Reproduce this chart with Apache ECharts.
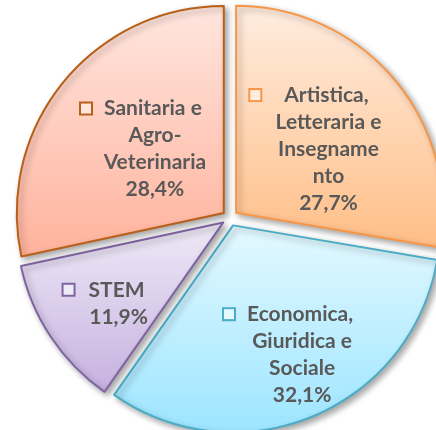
<!DOCTYPE html>
<html>
<head>
<meta charset="utf-8">
<script src="https://cdn.jsdelivr.net/npm/echarts@6/dist/echarts.min.js"></script>
<style>
  html, body { margin: 0; padding: 0; background: #fff; }
  #main { width: 436px; height: 430px; }
</style>
</head>
<body>
<div id="main"></div>
<script>
// Areas, clockwise from 12 o'clock
const categories = [
  "Artistica, Letteraria e Insegnamento",
  "Economica, Giuridica e Sociale",
  "STEM",
  "Sanitaria e Agro-Veterinaria",
];
// label text as wrapped in the picture
const labelLines = [
  ["Artistica,", "Letteraria e", "Insegname", "nto"],
  ["Economica,", "Giuridica e", "Sociale"],
  ["STEM"],
  ["Sanitaria e", "Agro-", "Veterinaria"],
];
const shares = [27.7, 32.1, 11.9, 28.4];

// styles
const borderColors = ["#F79646", "#4BACC6", "#8064A2", "#B8601A"];
const topColors = ["#FFEDE0", "#E4F9FF", "#EFEAF7", "#FFE6DF"];
const bottomColors = ["#FFBE86", "#9CE5FF", "#C6B1E0", "#FFB29C"];
const keyGaps = [24, 13, 15, 13];
const labelShift = [[11, 5], [28, 31], [-16, 22], [14, 3]];

const chart = echarts.init(document.getElementById("main"));

const rich = {};
categories.forEach((c, i) => {
  rich["sq" + i] = {
    width: 10, height: 10,
    borderColor: borderColors[i], borderWidth: 2,
    backgroundColor: topColors[i],
    verticalAlign: "middle",
  };
  rich["g" + i] = { width: keyGaps[i], height: 10 };
  rich["h" + i] = { width: keyGaps[i] + 14, height: 10 };
});

const pctText = (v) => v.toFixed(1).replace(".", ",") + "%";

chart.setOption({
  animation: false,
  series: [
    {
      type: "pie",
      center: [230, 218],
      radius: 207,
      startAngle: 90,
      clockwise: true,
      selectedMode: "multiple",
      selectedOffset: 8,
      emphasis: { disabled: true },
      itemStyle: {
        borderWidth: 2,
        shadowBlur: 6,
        shadowOffsetX: 3,
        shadowOffsetY: 3,
        shadowColor: "rgba(0,0,0,0.35)",
      },
      select: { itemStyle: { borderWidth: 2 } },
      label: {
        show: true,
        position: "inside",
        fontFamily: "Lato",
        fontWeight: "bold",
        fontSize: 21,
        lineHeight: 27,
        color: "#595959",
        align: "center",
        formatter: function (p) {
          const i = p.dataIndex;
          const lines = labelLines[i].slice();
          lines[0] = "{sq" + i + "|}{g" + i + "|}" + lines[0] + "{h" + i + "|}";
          lines.push(pctText(shares[i]));
          return lines.join("\n");
        },
        rich: rich,
      },
      labelLine: { show: false },
      labelLayout: function (p) {
        const s = labelShift[p.dataIndex];
        return { dx: s[0], dy: s[1] };
      },
      data: categories.map((c, i) => ({
        name: c,
        value: shares[i],
        selected: true,
        itemStyle: {
          borderColor: borderColors[i],
          color: {
            type: "linear", x: 0, y: 0, x2: 0, y2: 1,
            colorStops: [
              { offset: 0, color: topColors[i] },
              { offset: 1, color: bottomColors[i] },
            ],
          },
        },
        select: {
          itemStyle: {
            borderColor: borderColors[i],
            color: {
              type: "linear", x: 0, y: 0, x2: 0, y2: 1,
              colorStops: [
                { offset: 0, color: topColors[i] },
                { offset: 1, color: bottomColors[i] },
              ],
            },
          },
        },
      })),
    },
  ],
});
</script>
</body>
</html>
